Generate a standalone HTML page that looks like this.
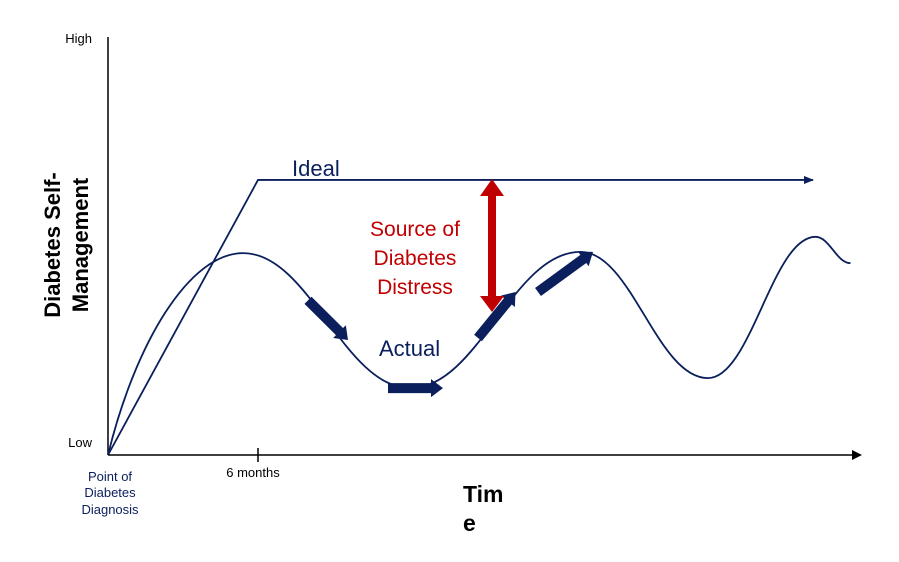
<!DOCTYPE html>
<html><head><meta charset="utf-8"><style>
html,body{margin:0;padding:0;background:#fff;}
svg{display:block;font-family:"Liberation Sans",Arial,sans-serif;}
</style></head><body>
<svg id="chart" width="899" height="562" viewBox="0 0 899 562" xmlns="http://www.w3.org/2000/svg">
<defs>
<marker id="ah" markerWidth="10" markerHeight="8" refX="9" refY="4" orient="auto" markerUnits="userSpaceOnUse"><path d="M0,0 L10,4 L0,8 z" fill="#0a1f5c"/></marker>
</defs>
<g id="axes">
<line x1="108" y1="37" x2="108" y2="455" stroke="#000" stroke-width="1.5"/>
<line x1="108" y1="455" x2="860" y2="455" stroke="#000" stroke-width="1.5" marker-end="url(#ah2)"/>
<path d="M852,450 L862,455 L852,460 z" fill="#000"/>
<line x1="258" y1="448" x2="258" y2="462" stroke="#000" stroke-width="1.5"/>
<text x="92" y="43" font-size="13" text-anchor="end">High</text>
<text x="92" y="447" font-size="13" text-anchor="end">Low</text>
<text x="253" y="477" font-size="13" text-anchor="middle">6 months</text>
<text font-size="13" fill="#0a1f5c" text-anchor="middle"><tspan x="110" y="481">Point of</tspan><tspan x="110" y="497">Diabetes</tspan><tspan x="110" y="514">Diagnosis</tspan></text>
<text font-size="23" font-weight="bold" text-anchor="start"><tspan x="463" y="502">Tim</tspan><tspan x="463" y="531">e</tspan></text>
<text font-size="22" font-weight="bold" text-anchor="middle" transform="translate(0,245) rotate(-90)"><tspan x="0" y="60">Diabetes Self-</tspan><tspan x="0" y="88">Management</tspan></text>
</g>
<g id="series"></g>
<g id="annot">
<text x="292" y="176" font-size="22" fill="#0a1f5c">Ideal</text>
<text x="379" y="356" font-size="22" fill="#0a1f5c">Actual</text>
<text font-size="21" fill="#c00000" text-anchor="middle"><tspan x="415" y="236">Source of</tspan><tspan x="415" y="265">Diabetes</tspan><tspan x="415" y="294">Distress</tspan></text>
<path d="M492,179 L504,196 L496,196 L496,296 L504,296 L492,312 L480,296 L488,296 L488,196 L480,196 z" fill="#c00000"/>
</g>
</svg>
<script>
// data: t in months-like units (6 = 6 months), v on 0 (Low) .. 10 (High)
var idealT = [0, 6, 28.2];
var idealV = [0, 6.58, 6.58];
var actualT = [0, 5.4, 12.1, 18.9, 24.0, 28.3, 29.7];
var actualV = [0, 4.83, 1.6, 4.86, 1.84, 5.22, 4.59];
var trendFromT = [8.0, 11.2, 14.8, 17.2];
var trendFromV = [3.7, 1.6, 2.8, 3.9];
var trendToT = [9.6, 13.4, 16.3, 19.4];
var trendToV = [2.75, 1.6, 3.9, 4.86];

function x(t){return 108 + t*25;}
function y(v){return 455 - v*41.8;}
var NS='http://www.w3.org/2000/svg';
var g=document.getElementById('series');
function mk(tag){return document.createElementNS(NS,tag);}

var d='M'+x(idealT[0])+','+y(idealV[0]);
for(var i=1;i<idealT.length;i++) d+=' L'+x(idealT[i])+','+y(idealV[i]);
var ideal=mk('path');


ideal.setAttribute('d',d);ideal.setAttribute('fill','none');ideal.setAttribute('stroke','#0a1f5c');ideal.setAttribute('stroke-width','1.8');ideal.setAttribute('marker-end','url(#ah)');
g.appendChild(ideal);

var a='M'+x(actualT[0])+','+y(actualV[0]);
for(var i=1;i<actualT.length;i++){
  var x0=x(actualT[i-1]),y0=y(actualV[i-1]),x1=x(actualT[i]),y1=y(actualV[i]),dx=x1-x0;
  var c1x=x0+dx*0.4,c1y=y0;
  if(i===1){c1x=x0+dx*0.2;c1y=y0-(y0-y1)*0.55;}
  a+=' C'+c1x+','+c1y+' '+(x1-dx*0.4)+','+y1+' '+x1+','+y1;
}
var act=mk('path');


act.setAttribute('d',a);act.setAttribute('fill','none');act.setAttribute('stroke','#0a1f5c');act.setAttribute('stroke-width','1.8');
g.appendChild(act);

for(var k=0;k<trendFromT.length;k++){
  var sx=x(trendFromT[k]),sy=y(trendFromV[k]),ex=x(trendToT[k]),ey=y(trendToV[k]);
  var ang=Math.atan2(ey-sy,ex-sx)*180/Math.PI;
  var len=Math.hypot(ex-sx,ey-sy);
  var ar=mk('path');
  
  
  var h=12;
  ar.setAttribute('d','M0,-5 L'+(len-h)+',-5 L'+(len-h)+',-9 L'+len+',0 L'+(len-h)+',9 L'+(len-h)+',5 L0,5 z');
  ar.setAttribute('fill','#0a1f5c');
  ar.setAttribute('transform','translate('+sx+','+sy+') rotate('+ang+')');
  g.appendChild(ar);
}
</script>
</body></html>
